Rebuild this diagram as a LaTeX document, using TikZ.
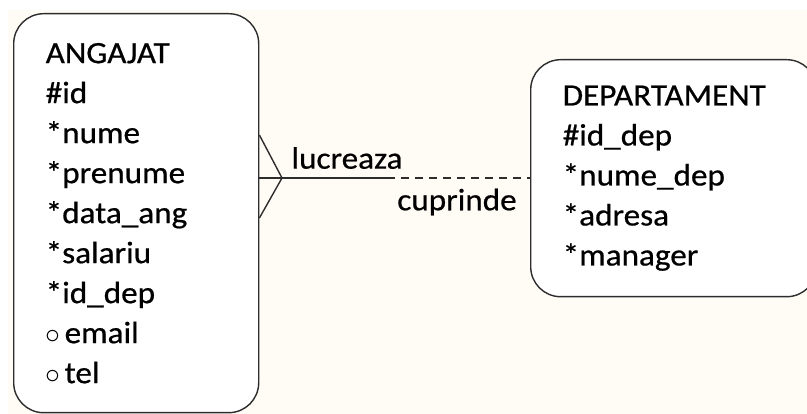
\documentclass[tikz,border=0pt]{standalone}
\usepackage{fontspec}
\setmainfont{Carlito}[FakeStretch=1.07, FakeBold=0.6]
\usetikzlibrary{positioning}
\definecolor{cream}{RGB}{255,251,245}
\definecolor{edge}{RGB}{45,45,45}
\newcommand\opt{\scalebox{1.2}{$\circ$}\hspace{4pt}}

\begin{document}
\begin{tikzpicture}[x=1pt,y=-1pt]
    \tikzset{
        entity/.style={draw=edge, fill=white, line width=1.4pt, rounded corners=30pt,
            align=left, inner xsep=32pt, inner ysep=0pt, anchor=north west,
            font=\fontsize{31}{40}\selectfont},
        rel/.style={font=\fontsize{31}{40}\selectfont, inner sep=0pt},
        link/.style={draw=edge, line width=1.4pt}
    }
    \useasboundingbox (0,0) rectangle (807,414);
    \fill [cream] (8,10) rectangle (807,414);

    \node [entity, text width=181pt, minimum height=399pt] (angajat) at (13,13)
        {ANGAJAT\\\#id\\{*}nume\\{*}prenume\\{*}data\_ang\\{*}salariu\\{*}id\_dep\\\opt email\\\opt tel};
    \node [entity, text width=222pt, minimum height=237pt] (departament) at (530,59)
        {DEPARTAMENT\\\#id\_dep\\{*}nume\_dep\\{*}adresa\\{*}manager};

    \coordinate (foot) at (282,178);
    \coordinate (mid) at (387,178);

    \draw [link] (angajat.east |- foot) -- (mid);
    \draw [link, dashed, dash pattern=on 8pt off 6pt] (mid) -- (departament.west |- mid);
    \draw [link] ([yshift=43pt]angajat.east |- foot) -- (foot) -- ([yshift=-40pt]angajat.east |- foot);

    \node [rel] (lucreaza) at (347,158) {lucreaza};
    \node [rel] (cuprinde) at (457,202) {cuprinde};
\end{tikzpicture}
\end{document}
